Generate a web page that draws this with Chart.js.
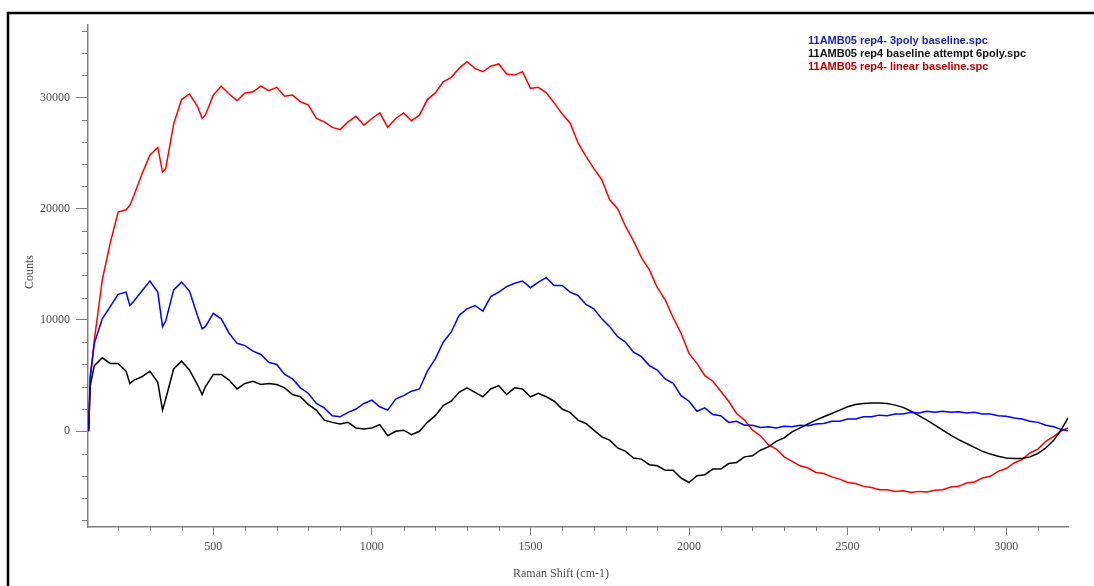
<!DOCTYPE html>
<html>
<head>
<meta charset="utf-8">
<script src="https://cdn.jsdelivr.net/npm/chart.js@4.4.1/dist/chart.umd.min.js"></script>
<style>
  html, body { margin: 0; padding: 0; background: #ffffff; }
  #wrap { width: 1094px; height: 586px; position: relative; }
</style>
</head>
<body>
<div id="wrap"><canvas id="spectra" width="1094" height="586"></canvas></div>
<script>
// Raman shift positions (cm-1) shared by all three baseline-corrected spectra
const wavenumbers = [
  107, 112, 125, 150, 175, 200, 225, 237, 250, 275,
  300, 325, 340, 350, 375, 400, 425, 450, 465, 475,
  500, 525, 550, 575, 600, 625, 650, 675, 700, 725,
  750, 775, 800, 825, 850, 875, 900, 925, 950, 975,
  1000, 1025, 1050, 1075, 1100, 1125, 1150, 1175, 1200, 1225,
  1250, 1275, 1300, 1325, 1350, 1375, 1400, 1425, 1450, 1475,
  1500, 1525, 1550, 1575, 1600, 1625, 1650, 1675, 1700, 1725,
  1750, 1775, 1800, 1825, 1850, 1875, 1900, 1925, 1950, 1975,
  2000, 2025, 2050, 2075, 2100, 2125, 2150, 2175, 2200, 2225,
  2250, 2275, 2300, 2325, 2350, 2375, 2400, 2425, 2450, 2475,
  2500, 2525, 2550, 2575, 2600, 2625, 2650, 2675, 2700, 2725,
  2750, 2775, 2800, 2825, 2850, 2875, 2900, 2925, 2950, 2975,
  3000, 3025, 3050, 3075, 3100, 3125, 3150, 3175, 3195
];

// Counts after a 3rd-order polynomial baseline
const poly3Counts = [
  0, 5000, 7900, 10100, 11200, 12300, 12500, 11300, 11700, 12600,
  13500, 12500, 9400, 9900, 12700, 13400, 12600, 10400, 9200, 9400,
  10600, 10100, 8800, 7900, 7700, 7200, 6900, 6200, 6000, 5100,
  4700, 3900, 3400, 2500, 2100, 1400, 1300, 1700, 2000, 2500,
  2800, 2200, 1900, 2900, 3200, 3600, 3800, 5400, 6500, 8000,
  8900, 10400, 11000, 11300, 10800, 12100, 12500, 13000, 13300, 13500,
  12900, 13400, 13800, 13100, 13100, 12500, 12200, 11400, 11000, 10100,
  9400, 8500, 8000, 7100, 6700, 5900, 5500, 4700, 4300, 3200,
  2700, 1800, 2100, 1500, 1400, 800, 900, 550, 550, 350,
  400, 300, 450, 400, 550, 500, 650, 700, 900, 900,
  1100, 1100, 1300, 1300, 1450, 1400, 1550, 1550, 1700, 1650,
  1800, 1700, 1800, 1700, 1750, 1650, 1700, 1550, 1550, 1400,
  1350, 1200, 1100, 900, 800, 550, 400, 150, 50
];

// Counts after the 6th-order polynomial baseline attempt
const poly6Counts = [
  0, 4100, 5900, 6600, 6100, 6100, 5400, 4300, 4600, 4900,
  5400, 4400, 1900, 2900, 5600, 6300, 5500, 4200, 3300, 4000,
  5100, 5100, 4600, 3800, 4300, 4500, 4200, 4300, 4200, 3900,
  3300, 3100, 2400, 1900, 1000, 800, 650, 800, 300, 200,
  300, 600, -400, 0, 100, -300, 0, 800, 1400, 2300,
  2700, 3500, 3900, 3500, 3100, 3800, 4100, 3300, 3900, 3800,
  3100, 3400, 3100, 2700, 2000, 1700, 1000, 700, 100, -500,
  -800, -1500, -1800, -2400, -2500, -3000, -3100, -3500, -3500, -4200,
  -4600, -4000, -3900, -3400, -3400, -2900, -2800, -2300, -2200, -1700,
  -1400, -900, -600, -50, 300, 650, 1000, 1300, 1600, 1900,
  2200, 2400, 2500, 2550, 2550, 2500, 2350, 2150, 1800, 1400,
  1000, 550, 100, -350, -750, -1100, -1450, -1800, -2050, -2250,
  -2400, -2450, -2450, -2300, -2000, -1500, -800, 200, 1200
];

// Counts after a linear baseline
const linearCounts = [
  0, 4600, 8200, 13600, 16900, 19700, 19900, 20300, 21200, 23100,
  24800, 25500, 23300, 23600, 27600, 29800, 30300, 29200, 28100, 28400,
  30200, 31000, 30300, 29700, 30400, 30500, 31000, 30600, 30900, 30100,
  30200, 29600, 29300, 28100, 27800, 27300, 27100, 27800, 28300, 27500,
  28100, 28600, 27300, 28100, 28600, 27900, 28400, 29800, 30400, 31400,
  31800, 32600, 33200, 32600, 32300, 32800, 33000, 32100, 32000, 32300,
  30800, 30900, 30400, 29500, 28500, 27700, 25900, 24700, 23600, 22600,
  20800, 20000, 18400, 17100, 15600, 14500, 12900, 11800, 10200, 8800,
  7000, 6100, 5000, 4500, 3600, 2700, 1600, 1000, 100, -400,
  -1200, -1600, -2300, -2700, -3100, -3300, -3700, -3800, -4100, -4300,
  -4600, -4700, -4950, -5050, -5250, -5250, -5400, -5350, -5500, -5400,
  -5450, -5300, -5250, -5000, -4950, -4650, -4550, -4200, -4050, -3600,
  -3350, -2850, -2550, -1950, -1600, -900, -450, 50, 300
];

const seriesNames = [
  '11AMB05 rep4- 3poly baseline.spc',
  '11AMB05 rep4 baseline attempt 6poly.spc',
  '11AMB05 rep4- linear baseline.spc'
];
const seriesValues = [poly3Counts, poly6Counts, linearCounts];
const lineColors = ['#0000ff', '#000000', '#ff0000'];
const legendTextColors = ['#1c1cb0', '#111111', '#b80000'];

// Axis extents and tick positions
const xRange = [105, 3195];
const yRange = [-8600, 36500];
const xMajorTicks = [500, 1000, 1500, 2000, 2500, 3000];
const yMajorTicks = [0, 10000, 20000, 30000];
const xMinorStep = 100;
const yMinorStep = 2000;

const axisGray = '#808080';
const labelGray = '#505050';
const serif = "'Liberation Serif', 'DejaVu Serif', serif";

// Minor ticks, axis titles, legend text and the outer frame
const decorations = {
  id: 'decorations',
  afterDraw(chart) {
    const ctx = chart.ctx;
    const xs = chart.scales.x, ys = chart.scales.y;
    const area = chart.chartArea;
    ctx.save();

    // minor tick marks
    ctx.strokeStyle = axisGray;
    ctx.lineWidth = 1;
    ctx.beginPath();
    for (let v = Math.ceil(xRange[0] / xMinorStep) * xMinorStep; v <= xRange[1]; v += xMinorStep) {
      if (xMajorTicks.includes(v)) continue;
      const px = Math.round(xs.getPixelForValue(v)) + 0.5;
      ctx.moveTo(px, area.bottom);
      ctx.lineTo(px, area.bottom + 4);
    }
    for (let v = Math.ceil(yRange[0] / yMinorStep) * yMinorStep; v <= yRange[1]; v += yMinorStep) {
      if (yMajorTicks.includes(v)) continue;
      const py = Math.round(ys.getPixelForValue(v)) + 0.5;
      ctx.moveTo(area.left - 6, py);
      ctx.lineTo(area.left, py);
    }
    ctx.stroke();

    // axis titles
    ctx.fillStyle = labelGray;
    ctx.font = '12px ' + serif;
    ctx.textAlign = 'center';
    ctx.textBaseline = 'middle';
    ctx.fillText('Raman Shift (cm-1)', 561, 574);
    ctx.save();
    ctx.translate(30, 272);
    ctx.rotate(-Math.PI / 2);
    ctx.fillText('Counts', 0, 0);
    ctx.restore();

    // legend
    ctx.font = "bold 11px 'Liberation Sans', Arial, sans-serif";
    ctx.textAlign = 'left';
    chart.data.datasets.forEach((ds, i) => {
      ctx.fillStyle = legendTextColors[i];
      ctx.fillText(ds.label, 808, 41 + i * 13);
    });

    // outer frame
    ctx.strokeStyle = '#000000';
    ctx.lineWidth = 2.5;
    ctx.beginPath();
    ctx.moveTo(8, 586);
    ctx.lineTo(8, 13);
    ctx.lineTo(1094, 13);
    ctx.stroke();

    ctx.restore();
  }
};

const datasets = seriesNames.map((name, i) => ({
  label: name,
  data: wavenumbers.map((w, k) => ({ x: w, y: seriesValues[i][k] })),
  borderColor: lineColors[i],
  borderWidth: 1.5,
  pointRadius: 0,
  tension: 0,
  fill: false
}));

new Chart(document.getElementById('spectra'), {
  type: 'line',
  data: { datasets },
  options: {
    responsive: false,
    animation: false,
    devicePixelRatio: 1,
    layout: { padding: { left: 8, top: 25, right: 26, bottom: 0 } },
    plugins: {
      legend: { display: false },
      tooltip: { enabled: false }
    },
    scales: {
      x: {
        type: 'linear',
        min: xRange[0],
        max: xRange[1],
        afterBuildTicks(scale) { scale.ticks = xMajorTicks.map(v => ({ value: v })); },
        afterFit(scale) { scale.height = 59; },
        border: { color: axisGray, width: 1.5 },
        grid: {
          drawOnChartArea: false,
          drawTicks: true,
          tickLength: 8,
          tickWidth: 1,
          tickColor: axisGray
        },
        ticks: {
          autoSkip: false,
          maxRotation: 0,
          padding: 5,
          color: labelGray,
          font: { family: serif, size: 12 },
          callback: v => String(v)
        }
      },
      y: {
        type: 'linear',
        min: yRange[0],
        max: yRange[1],
        afterBuildTicks(scale) { scale.ticks = yMajorTicks.map(v => ({ value: v })); },
        afterFit(scale) { scale.width = 80; },
        border: { color: axisGray, width: 1.5 },
        grid: {
          drawOnChartArea: false,
          drawTicks: true,
          tickLength: 12,
          tickWidth: 1,
          tickColor: axisGray
        },
        ticks: {
          autoSkip: false,
          padding: 6,
          color: labelGray,
          font: { family: serif, size: 12 },
          callback: v => String(v)
        }
      }
    }
  },
  plugins: [decorations]
});
</script>
</body>
</html>
